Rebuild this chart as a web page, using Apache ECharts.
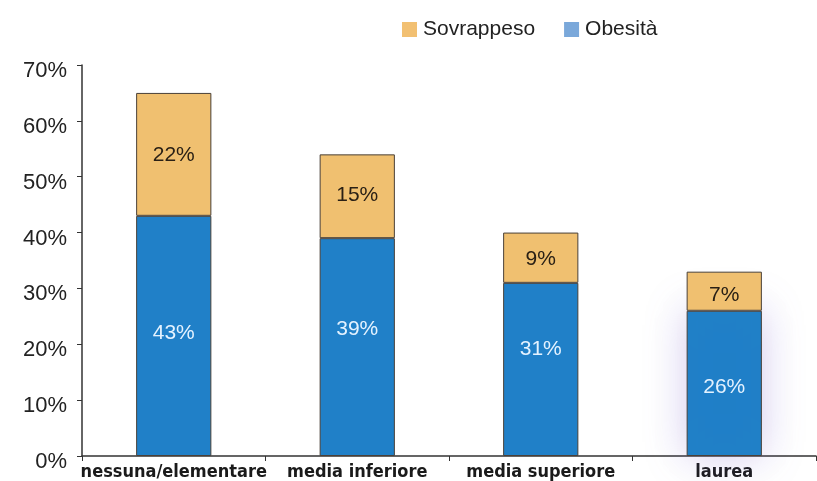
<!DOCTYPE html>
<html>
<head>
<meta charset="utf-8">
<script src="https://cdn.jsdelivr.net/npm/echarts@6/dist/echarts.min.js"></script>
<style>
  html, body { margin: 0; padding: 0; background: #ffffff; }
  #chart { width: 817px; height: 481px; }
</style>
</head>
<body>
<div id="chart"></div>
<script>
// Education level categories
const categories = ['nessuna/elementare', 'media inferiore', 'media superiore', 'laurea'];
// Share of people (%) by weight status
const obesita = [43, 39, 31, 26];
const sovrappeso = [22, 15, 9, 7];
// Y axis ticks (%)
const yTicks = [0, 10, 20, 30, 40, 50, 60, 70];

// Vertical nudges for the value labels inside the segments
const obesitaLabelShift = [-3, -18, -20, 4];
const sovrappesoLabelShift = [1, -1, 1, 4];

const chart = echarts.init(document.getElementById('chart'));

const baseFont = 'Liberation Sans, Arial, Helvetica, sans-serif';

const option = {
  animation: false,
  grid: { left: 82, right: 1, top: 65, bottom: 24, containLabel: false },
  legend: {
    top: 14,
    left: 397,
    itemWidth: 15,
    itemHeight: 15,
    itemGap: 29,
    icon: 'rect',
    textStyle: { fontFamily: baseFont, fontSize: 21, color: '#222', padding: [0, 0, 0, 1] },
    data: [
      { name: 'Sovrappeso', itemStyle: { color: '#f2c072', borderWidth: 0 } },
      { name: 'Obesità', itemStyle: { color: '#7aa8da', borderWidth: 0 } }
    ]
  },
  xAxis: {
    type: 'category',
    data: categories,
    axisLine: { lineStyle: { color: '#333', width: 1.5 } },
    axisTick: { show: true, length: 5, lineStyle: { color: '#333' } },
    axisLabel: {
      interval: 0,
      margin: 7,
      fontFamily: 'DejaVu Sans Condensed, sans-serif',
      fontWeight: 'bold',
      fontSize: 18,
      color: '#1a1a1a'
    }
  },
  yAxis: {
    type: 'value',
    min: yTicks[0],
    max: yTicks[yTicks.length - 1],
    interval: 10,
    splitLine: { show: false },
    axisLine: { show: true, lineStyle: { color: '#333', width: 1.5 } },
    axisTick: { show: true, length: 5, lineStyle: { color: '#333' } },
    axisLabel: {
      margin: 15,
      formatter: v => '{t|' + v + '%}',
      rich: {
        t: {
          padding: [12, 0, 0, 0],
          fontFamily: baseFont,
          fontSize: 22,
          color: '#222'
        }
      }
    }
  },
  series: [
    {
      name: 'Obesità',
      type: 'bar',
      stack: 'tot',
      barWidth: '41%',
      data: obesita.map((v, i) => ({
        value: v,
        label: { offset: [0, obesitaLabelShift[i]] },
        itemStyle: i === obesita.length - 1
          ? { shadowColor: 'rgba(130,110,210,0.35)', shadowBlur: 40 }
          : {}
      })),
      itemStyle: { color: '#2080c8', borderColor: '#4a4038', borderWidth: 1 },
      label: {
        show: true,
        position: 'inside',
        formatter: p => p.value + '%',
        fontFamily: baseFont,
        fontSize: 21,
        color: '#e4f2ff'
      }
    },
    {
      name: 'Sovrappeso',
      type: 'bar',
      stack: 'tot',
      barWidth: '41%',
      data: sovrappeso.map((v, i) => ({
        value: v,
        label: { offset: [0, sovrappesoLabelShift[i]] }
      })),
      itemStyle: { color: '#f0c070', borderColor: '#4a4038', borderWidth: 1 },
      label: {
        show: true,
        position: 'inside',
        formatter: p => p.value + '%',
        fontFamily: baseFont,
        fontSize: 21,
        color: '#2a2015'
      }
    }
  ]
};

chart.setOption(option);
</script>
</body>
</html>
